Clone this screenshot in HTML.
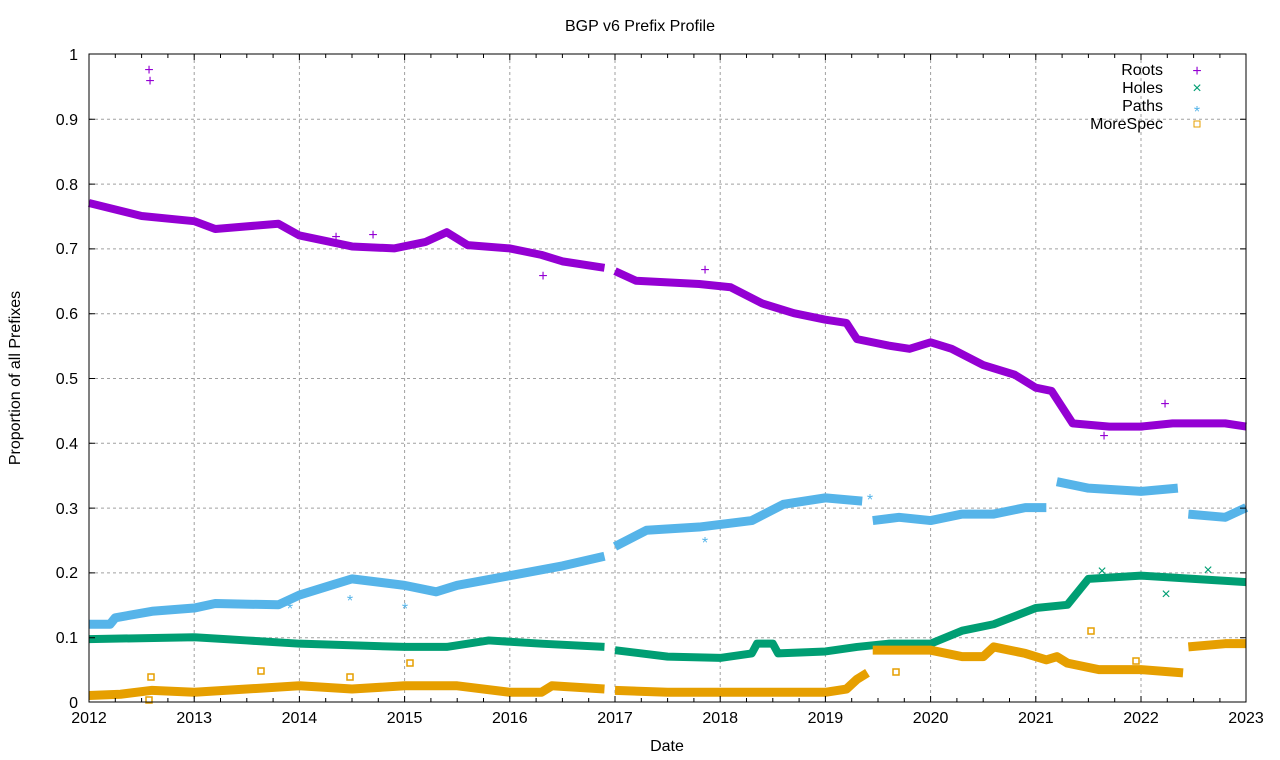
<!DOCTYPE html>
<html><head><meta charset="utf-8"><style>body{margin:0;background:#fff}svg{display:block}text{font-family:"Liberation Sans",sans-serif;font-size:16px}</style></head><body>
<svg width="1280" height="760" viewBox="0 0 1280 760">
<rect width="1280" height="760" fill="#fff"/>
<text x="640" y="31" text-anchor="middle">BGP v6 Prefix Profile</text>
<g stroke="#a0a0a0" stroke-dasharray="3,3" stroke-width="1">
<path d="M89,119.3H1246M89,184.1H1246M89,248.9H1246M89,313.7H1246M89,378.5H1246M89,443.3H1246M89,508.1H1246M89,572.9H1246M89,637.7H1246"/>
<path d="M194.2,54V702M299.4,54V702M404.6,54V702M509.8,54V702M615,54V702M720.2,54V702M825.4,54V702M930.6,54V702M1035.8,54V702M1141,54V702"/>
</g>
<g fill="none" stroke-linejoin="round" stroke-linecap="butt" transform="translate(89,702) scale(105.2,-648) translate(-2012,0)">
<g stroke="#9400d3"><polyline vector-effect="non-scaling-stroke" stroke-width="8" points="2012,.77 2012.5,.75 2013,.742 2013.2,.73 2013.8,.738 2014,.72 2014.5,.703 2014.9,.70 2015.2,.71 2015.4,.725 2015.6,.705 2016,.70 2016.3,.69 2016.5,.68 2016.9,.67"/>
<polyline vector-effect="non-scaling-stroke" stroke-width="8" points="2017,.665 2017.2,.65 2017.8,.645 2018.1,.64 2018.4,.615 2018.7,.60 2019,.59 2019.2,.585 2019.3,.56 2019.6,.55 2019.8,.545 2020,.555 2020.2,.545 2020.5,.52 2020.8,.505 2021,.485 2021.15,.48 2021.35,.43 2021.7,.425 2022,.425 2022.3,.43 2022.8,.43 2023,.425"/></g>
<g stroke="#56b4e9"><polyline vector-effect="non-scaling-stroke" stroke-width="9" points="2012,.12 2012.2,.12 2012.25,.13 2012.6,.14 2013,.145 2013.2,.152 2013.8,.15 2014,.165 2014.3,.18 2014.5,.19 2015,.18 2015.3,.17 2015.5,.18 2016,.195 2016.5,.21 2016.9,.225"/>
<polyline vector-effect="non-scaling-stroke" stroke-width="9" points="2017,.24 2017.3,.265 2017.8,.27 2018.3,.28 2018.6,.305 2019,.315 2019.35,.31"/>
<polyline vector-effect="non-scaling-stroke" stroke-width="9" points="2019.45,.28 2019.7,.285 2020,.28 2020.3,.29 2020.6,.29 2020.9,.30 2021.1,.30"/>
<polyline vector-effect="non-scaling-stroke" stroke-width="9" points="2021.2,.34 2021.5,.33 2022,.325 2022.35,.33"/>
<polyline vector-effect="non-scaling-stroke" stroke-width="9" points="2022.45,.29 2022.8,.285 2023,.30"/></g>
<g stroke="#009e73"><polyline vector-effect="non-scaling-stroke" stroke-width="8" points="2012,.097 2013,.10 2013.5,.095 2014,.09 2015,.085 2015.4,.085 2015.8,.095 2016.3,.09 2016.9,.085"/>
<polyline vector-effect="non-scaling-stroke" stroke-width="8" points="2017,.08 2017.5,.07 2018,.068 2018.3,.075 2018.35,.09 2018.5,.09 2018.55,.075 2019,.078 2019.3,.085 2019.6,.09 2020,.09 2020.3,.11 2020.6,.12 2021,.145 2021.3,.15 2021.4,.17 2021.5,.19 2022,.195 2022.5,.19 2023,.185"/></g>
<g stroke="#e69f00"><polyline vector-effect="non-scaling-stroke" stroke-width="9" points="2012,.01 2012.3,.012 2012.6,.018 2013,.015 2013.5,.02 2014,.025 2014.5,.02 2015,.025 2015.5,.025 2016,.015 2016.3,.015 2016.4,.025 2016.9,.02"/>
<polyline vector-effect="non-scaling-stroke" stroke-width="9" points="2017,.018 2017.5,.015 2018,.015 2019,.015 2019.2,.02 2019.3,.035 2019.4,.045"/>
<polyline vector-effect="non-scaling-stroke" stroke-width="9" points="2019.45,.08 2020,.08 2020.3,.07 2020.5,.07 2020.6,.085 2020.9,.075 2021.1,.065 2021.2,.07 2021.3,.06 2021.6,.05 2022,.05 2022.4,.045"/>
<polyline vector-effect="non-scaling-stroke" stroke-width="9" points="2022.45,.085 2022.8,.09 2023,.09"/></g>
</g>
<g text-anchor="middle" style="font-size:18px">
<text x="149" y="75" fill="#9400d3">+</text><text x="150" y="86" fill="#9400d3">+</text>
<text x="705" y="275" fill="#9400d3">+</text><text x="1104" y="441" fill="#9400d3">+</text><text x="1165" y="409" fill="#9400d3">+</text>
<text x="336" y="242" fill="#9400d3">+</text><text x="373" y="240" fill="#9400d3">+</text><text x="543" y="281" fill="#9400d3">+</text>
<text x="870" y="505" fill="#56b4e9">*</text><text x="705" y="548" fill="#56b4e9">*</text>
<text x="405" y="614" fill="#56b4e9">*</text><text x="350" y="606" fill="#56b4e9">*</text><text x="290" y="614" fill="#56b4e9">*</text>
<text x="1102" y="576" fill="#009e73">×</text><text x="1166" y="599" fill="#009e73">×</text><text x="1208" y="575" fill="#009e73">×</text>
</g>
<g fill="none" stroke="#e69f00" stroke-width="1.5">
<rect x="407" y="660" width="6" height="6"/><rect x="148" y="674" width="6" height="6"/><rect x="258" y="668" width="6" height="6"/><rect x="347" y="674" width="6" height="6"/><rect x="893" y="669" width="6" height="6"/><rect x="1133" y="658" width="6" height="6"/><rect x="1088" y="628" width="6" height="6"/><rect x="146" y="697" width="6" height="6"/>
</g>
<rect x="89" y="54" width="1157" height="648" fill="none" stroke="#000"/>
<g stroke="#000"><path d="M89,702h6M89,637.7h6M89,572.9h6M89,508.1h6M89,443.3h6M89,378.5h6M89,313.7h6M89,248.9h6M89,184.1h6M89,119.3h6M89,54h6M1246,637.7h-6M1246,572.9h-6M1246,508.1h-6M1246,443.3h-6M1246,378.5h-6M1246,313.7h-6M1246,248.9h-6M1246,184.1h-6M1246,119.3h-6"/>
<path d="M89,702v-6M194.2,702v-6M299.4,702v-6M404.6,702v-6M509.8,702v-6M615,702v-6M720.2,702v-6M825.4,702v-6M930.6,702v-6M1035.8,702v-6M1141,702v-6M89,54v6M194.2,54v6M299.4,54v6M404.6,54v6M509.8,54v6M615,54v6M720.2,54v6M825.4,54v6M930.6,54v6M1035.8,54v6M1141,54v6"/>
<path d="M115.3,702v-4M141.6,702v-4M167.9,702v-4M220.5,702v-4M246.8,702v-4M273.1,702v-4M325.7,702v-4M352,702v-4M378.3,702v-4M430.9,702v-4M457.2,702v-4M483.5,702v-4M536.1,702v-4M562.4,702v-4M588.7,702v-4M641.3,702v-4M667.6,702v-4M693.9,702v-4M746.5,702v-4M772.8,702v-4M799.1,702v-4M851.7,702v-4M878,702v-4M904.3,702v-4M956.9,702v-4M983.2,702v-4M1009.5,702v-4M1062.1,702v-4M1088.4,702v-4M1114.7,702v-4M1167.3,702v-4M1193.6,702v-4M1219.9,702v-4"/>
<path d="M115.3,54v4M141.6,54v4M167.9,54v4M220.5,54v4M246.8,54v4M273.1,54v4M325.7,54v4M352,54v4M378.3,54v4M430.9,54v4M457.2,54v4M483.5,54v4M536.1,54v4M562.4,54v4M588.7,54v4M641.3,54v4M667.6,54v4M693.9,54v4M746.5,54v4M772.8,54v4M799.1,54v4M851.7,54v4M878,54v4M904.3,54v4M956.9,54v4M983.2,54v4M1009.5,54v4M1062.1,54v4M1088.4,54v4M1114.7,54v4M1167.3,54v4M1193.6,54v4M1219.9,54v4"/>
</g>
<g text-anchor="end">
<text x="78" y="708">0</text><text x="78" y="643">0.1</text><text x="78" y="578">0.2</text><text x="78" y="514">0.3</text><text x="78" y="449">0.4</text><text x="78" y="384">0.5</text><text x="78" y="319">0.6</text><text x="78" y="254">0.7</text><text x="78" y="190">0.8</text><text x="78" y="125">0.9</text><text x="78" y="60">1</text>
</g>
<g text-anchor="middle">
<text x="89" y="723">2012</text><text x="194.2" y="723">2013</text><text x="299.4" y="723">2014</text><text x="404.6" y="723">2015</text><text x="509.8" y="723">2016</text><text x="615" y="723">2017</text><text x="720.2" y="723">2018</text><text x="825.4" y="723">2019</text><text x="930.6" y="723">2020</text><text x="1035.8" y="723">2021</text><text x="1141" y="723">2022</text><text x="1246" y="723">2023</text>
<text x="667" y="751">Date</text>
<text transform="translate(20,378) rotate(-90)">Proportion of all Prefixes</text>
</g>
<g text-anchor="end">
<text x="1163" y="75">Roots</text><text x="1163" y="93">Holes</text><text x="1163" y="111">Paths</text><text x="1163" y="129">MoreSpec</text>
</g>
<g text-anchor="middle" style="font-size:18px">
<text x="1197" y="76" fill="#9400d3">+</text><text x="1197" y="93" fill="#009e73">×</text><text x="1197" y="117" fill="#56b4e9">*</text>
</g>
<rect x="1194" y="121" width="6" height="6" fill="none" stroke="#e69f00"/>
</svg>
</body></html>
